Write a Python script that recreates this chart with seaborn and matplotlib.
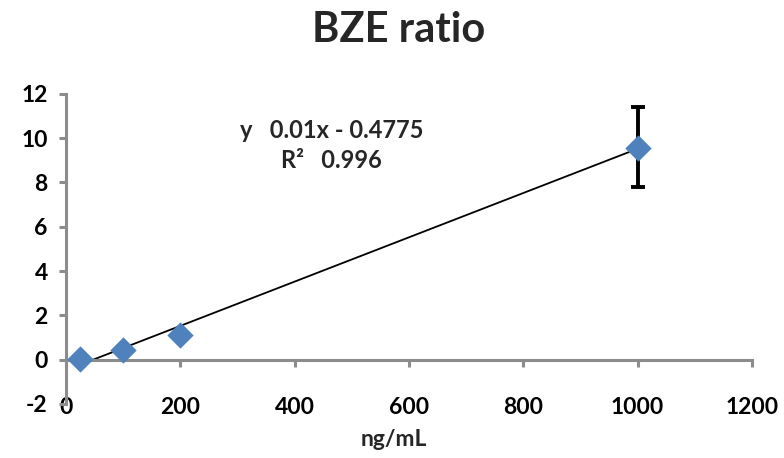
import matplotlib
matplotlib.use("Agg")
import matplotlib.pyplot as plt
import seaborn as sns
import numpy as np
import pandas as pd

# Data
conc = [25, 100, 200, 1000]
ratio = [0.05, 0.45, 1.1, 9.55]
err_low = [0, 0, 0, 1.75]
err_high = [0, 0, 0, 1.85]
slope = 0.01
intercept = -0.4775
r2 = 0.996
x_ticks = [0, 200, 400, 600, 800, 1000, 1200]
y_ticks = [-2, 0, 2, 4, 6, 8, 10, 12]

sns.set_theme(style="white")
plt.rcParams['font.family'] = ['Lato', 'DejaVu Sans']
plt.rcParams['font.weight'] = 'bold'
plt.rcParams['axes.labelweight'] = 'bold'

df = pd.DataFrame({"conc": conc, "ratio": ratio})

fig = plt.figure(figsize=(7.84, 4.58), dpi=100)
ax = fig.add_axes([0.084, 0.118, 0.875, 0.677])

gray = "#8c8c8c"

# trendline
xt = np.array([conc[0], conc[-1]])
sns.lineplot(x=xt, y=slope * xt + intercept, color="black", lw=1.3, ax=ax, zorder=2)

# error bars
ax.errorbar(conc[-1:], ratio[-1:], yerr=[err_low[-1:], err_high[-1:]], fmt="none",
            ecolor="black", elinewidth=2.8, capsize=4.7, capthick=2.8, zorder=3)

sns.scatterplot(data=df, x="conc", y="ratio", marker="D", s=180, color="#4F81BD",
                edgecolor="#4F81BD", linewidth=0, ax=ax, zorder=4)

ax.set_xlim(0, 1200)
ax.set_ylim(-2, 12)

for s in ["top", "right"]:
    ax.spines[s].set_visible(False)
ax.spines["bottom"].set_position(("data", 0))
ax.spines["bottom"].set_color(gray)
ax.spines["bottom"].set_linewidth(2.2)
ax.spines["left"].set_color(gray)
ax.spines["left"].set_linewidth(2.2)
ax.xaxis.set_ticks_position("bottom")
ax.yaxis.set_ticks_position("left")
ax.set_xticks(x_ticks, labels=[str(v) for v in x_ticks], fontsize=16.5, fontweight="bold")
ax.set_yticks(y_ticks, labels=[str(v) for v in y_ticks], fontsize=16.5, fontweight="bold")
ax.tick_params(axis="x", direction="out", length=5, width=2.2, color=gray, pad=22,
               labelcolor="black")
ax.tick_params(axis="y", direction="out", length=5, width=2.2, color=gray, pad=8,
               labelcolor="black")

ax.set_xlabel("ng/mL", fontsize=16.5, fontweight="bold", va="center")
ax.xaxis.set_label_coords(0.478, -0.115)
ax.set_ylabel("")

ax.text(465, 10.35, "y   0.01x - 0.4775", ha="center", va="center", fontsize=17, fontweight="bold")
ax.text(465, 9.0, "R²   0.996", ha="center", va="center", fontsize=17, fontweight="bold")

fig.suptitle("BZE ratio", x=0.508, y=0.975, fontsize=30, fontweight="bold")

fig.savefig("out.png", dpi=100)
